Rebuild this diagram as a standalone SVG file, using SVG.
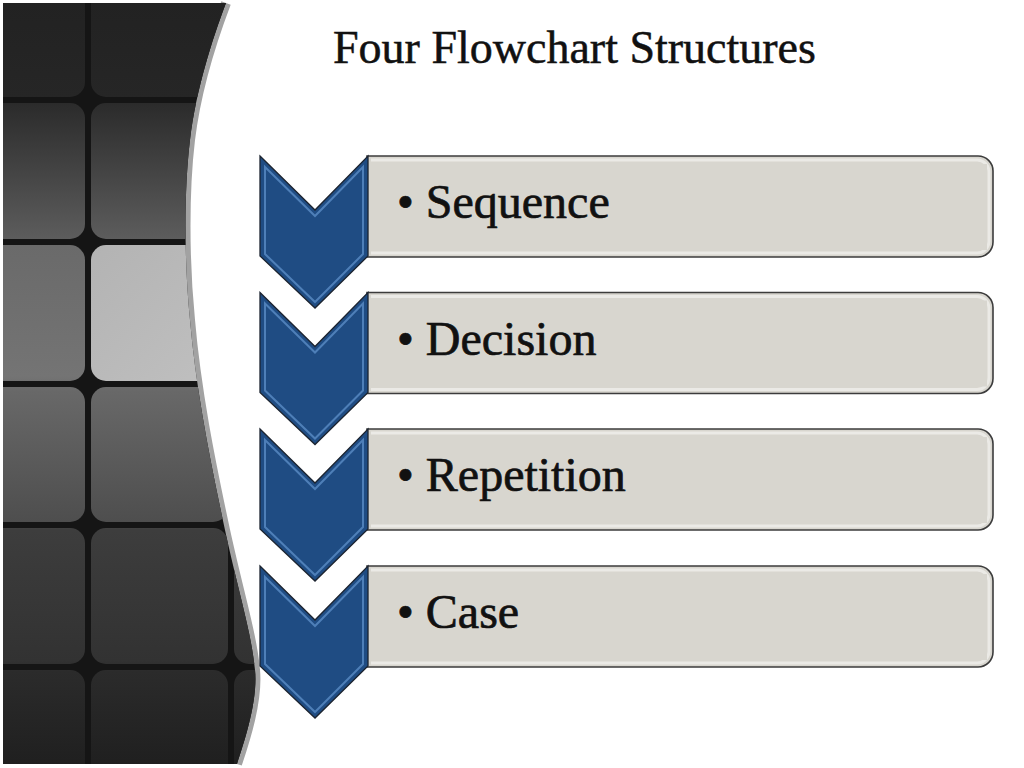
<svg xmlns="http://www.w3.org/2000/svg" width="1024" height="768" viewBox="0 0 1024 768">
<defs>
<style>
.lbl{font-family:"Liberation Serif","Times New Roman",serif;font-size:48px;fill:#111;stroke:#111;stroke-width:0.7}
.title{font-family:"Liberation Serif","Times New Roman",serif;font-size:46px;fill:#111;stroke:#111;stroke-width:0.5}
.chev{fill:#1f4c83;stroke:#1c2430;stroke-width:1.3;stroke-linejoin:miter}
.chevIn{fill:none;stroke:#5a8cc6;stroke-width:2;stroke-linejoin:miter;opacity:0.8}
.box{fill:#d8d6cf;stroke:#3c3c3c;stroke-width:1.6}
.boxIn{fill:none;stroke:#ebeae6;stroke-width:3}
.gap{fill:#151515}
</style>
<clipPath id="panelClip">
<path d="M3,3 L226,3 C212,40 196,90 190,140 C184,190 184,260 190,320 C196,390 210,460 225,530 C238,590 252,635 255,670 C258,700 245,740 237,764 L3,764 Z"/>
</clipPath>
<linearGradient id="colG" gradientUnits="userSpaceOnUse" x1="0" y1="0" x2="0" y2="768">
<stop offset="0" stop-color="#222"/>
<stop offset="0.128" stop-color="#262626"/>
<stop offset="0.134" stop-color="#2b2b2b"/>
<stop offset="0.31" stop-color="#5c5c5c"/>
<stop offset="0.32" stop-color="#6a6a6a"/>
<stop offset="0.49" stop-color="#747474"/>
<stop offset="0.51" stop-color="#686868"/>
<stop offset="0.68" stop-color="#4e4e4e"/>
<stop offset="0.69" stop-color="#3d3d3d"/>
<stop offset="0.86" stop-color="#323232"/>
<stop offset="0.875" stop-color="#2b2b2b"/>
<stop offset="1" stop-color="#1f1f1f"/>
</linearGradient>
<linearGradient id="brightG" x1="0" y1="0" x2="1" y2="1">
<stop offset="0" stop-color="#b3b3b3"/>
<stop offset="1" stop-color="#c0c0c0"/>
</linearGradient>
</defs>
<rect width="1024" height="768" fill="#ffffff"/>

<g id="panel">
<path d="M226,3 C212,40 196,90 190,140 C184,190 184,260 190,320 C196,390 210,460 225,530 C238,590 252,635 255,670 C258,700 245,740 237,764" fill="none" stroke="#a2a2a2" stroke-width="10"/>
<g clip-path="url(#panelClip)">
<rect x="0" y="0" width="300" height="768" class="gap"/>
<g fill="url(#colG)">
<rect x="-60" y="-40" width="145" height="137" rx="15"/>
<rect x="91" y="-40" width="137" height="137" rx="15"/>
<rect x="234" y="-40" width="140" height="137" rx="15"/>
<rect x="-60" y="103" width="145" height="136" rx="15"/>
<rect x="91" y="103" width="137" height="136" rx="15"/>
<rect x="234" y="103" width="140" height="136" rx="15"/>
<rect x="-60" y="245" width="145" height="136" rx="15"/>
<rect x="234" y="245" width="140" height="136" rx="15"/>
<rect x="-60" y="387" width="145" height="135" rx="15"/>
<rect x="91" y="387" width="137" height="135" rx="15"/>
<rect x="234" y="387" width="140" height="135" rx="15"/>
<rect x="-60" y="528" width="145" height="136" rx="15"/>
<rect x="91" y="528" width="137" height="136" rx="15"/>
<rect x="234" y="528" width="140" height="136" rx="15"/>
<rect x="-60" y="670" width="145" height="140" rx="15"/>
<rect x="91" y="670" width="137" height="140" rx="15"/>
<rect x="234" y="670" width="140" height="140" rx="15"/>
</g>
<rect x="91" y="245" width="137" height="136" rx="15" fill="url(#brightG)"/>
</g>
</g>

<text class="title" x="333" y="63">Four Flowchart Structures</text>

<g id="node-sequence" transform="translate(0,156)">
<path class="box" d="M367,0 H978 A15,15 0 0 1 993,15 V86 A15,15 0 0 1 978,101 H367 Z"/>
<path class="boxIn" d="M371,4 H976 A12,12 0 0 1 989,16 V85 A12,12 0 0 1 976,97 H371"/>
<rect x="371" y="8" width="616" height="86" fill="#d8d6cf"/>
<polygon class="chev" points="260,0 315,54 368,0 368,100 315,152 260,100"/>
<polygon class="chevIn" points="265,11 315,60 363,11 363,98 315,146 265,98"/>
<text class="lbl" x="397" y="62">• Sequence</text>
</g>

<g id="node-decision" transform="translate(0,292.5)">
<path class="box" d="M367,0 H978 A15,15 0 0 1 993,15 V86 A15,15 0 0 1 978,101 H367 Z"/>
<path class="boxIn" d="M371,4 H976 A12,12 0 0 1 989,16 V85 A12,12 0 0 1 976,97 H371"/>
<rect x="371" y="8" width="616" height="86" fill="#d8d6cf"/>
<polygon class="chev" points="260,0 315,54 368,0 368,100 315,152 260,100"/>
<polygon class="chevIn" points="265,11 315,60 363,11 363,98 315,146 265,98"/>
<text class="lbl" x="397" y="62">• Decision</text>
</g>

<g id="node-repetition" transform="translate(0,429)">
<path class="box" d="M367,0 H978 A15,15 0 0 1 993,15 V86 A15,15 0 0 1 978,101 H367 Z"/>
<path class="boxIn" d="M371,4 H976 A12,12 0 0 1 989,16 V85 A12,12 0 0 1 976,97 H371"/>
<rect x="371" y="8" width="616" height="86" fill="#d8d6cf"/>
<polygon class="chev" points="260,0 315,54 368,0 368,100 315,152 260,100"/>
<polygon class="chevIn" points="265,11 315,60 363,11 363,98 315,146 265,98"/>
<text class="lbl" x="397" y="62">• Repetition</text>
</g>

<g id="node-case" transform="translate(0,566)">
<path class="box" d="M367,0 H978 A15,15 0 0 1 993,15 V86 A15,15 0 0 1 978,101 H367 Z"/>
<path class="boxIn" d="M371,4 H976 A12,12 0 0 1 989,16 V85 A12,12 0 0 1 976,97 H371"/>
<rect x="371" y="8" width="616" height="86" fill="#d8d6cf"/>
<polygon class="chev" points="260,0 315,54 368,0 368,100 315,152 260,100"/>
<polygon class="chevIn" points="265,11 315,60 363,11 363,98 315,146 265,98"/>
<text class="lbl" x="397" y="62">• Case</text>
</g>

<g id="connectors"></g>
</svg>
